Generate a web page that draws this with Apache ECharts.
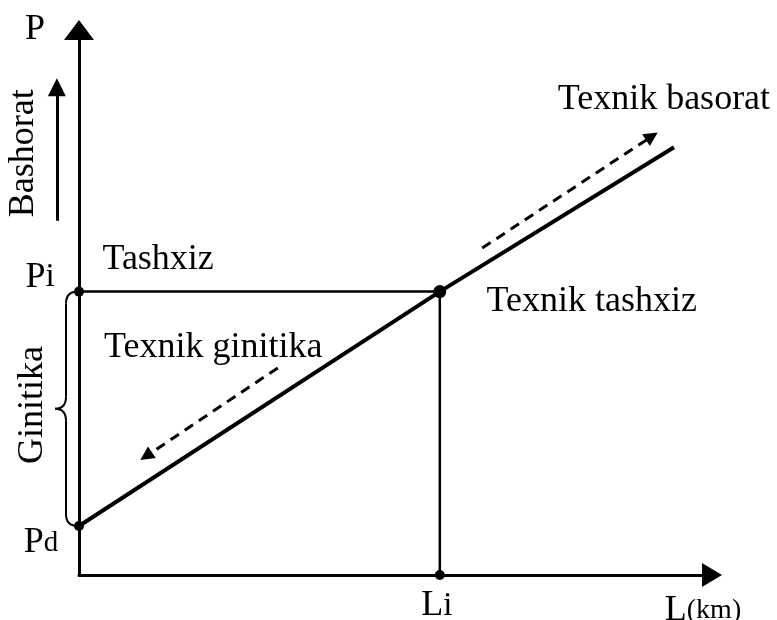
<!DOCTYPE html>
<html>
<head>
<meta charset="utf-8">
<script src="https://cdn.jsdelivr.net/npm/echarts@6/dist/echarts.min.js"></script>
<style>
  html, body { margin: 0; padding: 0; background: #fff; }
  #chart { width: 777px; height: 620px; }
</style>
</head>
<body>
<div id="chart"></div>
<script>
// L (probeg) va P (parametr) o'qlari, nisbiy birliklarda 0..100
const pLevels = [9, 52];          // Pd, Pi
const pSub = ['d', 'i'];
const lLevels = [57];             // Li
const lSub = ['i'];

// asosiy chiziq L -> P
const wearL = [0, 57, 94];
const wearP = [9, 52, 78.5];

// punktir strelkalar (boshi, oxiri)
const basoratL = [63.7, 90.5];
const basoratP = [60, 80.5];
const ginitikaL = [31.4, 10.6];
const ginitikaP = [38, 21.8];
// P o'qi yonidagi "Bashorat" strelkasi
const bashoratL = [-3.5, -3.5];
const bashoratP = [65, 89.5];

// yozuvlar
const captions = ['Tashxiz', 'Texnik ginitika', 'Texnik tashxiz', 'Texnik basorat'];
const captionL = [12.5, 21.2, 81.0, 92.4];
const captionP = [57.8, 41.8, 50.1, 87.2];
const sideCaptions = ['Bashorat', 'Ginitika'];
const sideL = [-8.8, -7.4];
const sideP = [77.4, 31.2];

const font = '"Liberation Serif", "Times New Roman", serif';
const black = '#000';

const Pd = pLevels[0], Pi = pLevels[1], Li = lLevels[0];

function pair(xs, ys) {
    return xs.map((x, i) => [x, ys[i]]);
}

const richSub = {
    a: { fontSize: 36, fontFamily: font, color: black },
    b: { fontSize: 33, fontFamily: font, color: black },
    c: { fontSize: 29, fontFamily: font, color: black },
    k: { fontSize: 28, fontFamily: font, color: black }
};

function dotLabel(text, offset) {
    return { show: true, position: 'inside', formatter: text, offset: offset, rich: richSub, opacity: 1 };
}

const dots = [
    { value: [0, Pi], label: dotLabel('{a|P}{b|' + pSub[1] + '}', [-39, -14]) },
    { value: [Li, Pi], symbolSize: 13 },
    { value: [0, Pd], label: dotLabel('{a|P}{c|' + pSub[0] + '}', [-38, 17]) },
    { value: [Li, 0], label: dotLabel('{a|L}{b|' + lSub[0] + '}', [-3, 31]) }
];

const captionData = captions.map((c, i) => ({ value: [captionL[i], captionP[i]], name: c }))
    .concat(sideCaptions.map((c, i) => ({
        value: [sideL[i], sideP[i]], name: c, label: { rotate: 90 }
    })));

var myChart = echarts.init(document.getElementById('chart'));
myChart.setOption({
    animation: false,
    grid: { left: 79, right: 65, top: 30, bottom: 45, outerBoundsMode: 'none' },
    xAxis: {
        type: 'value',
        min: 0,
        max: 100,
        name: '{a|L}{k|(km)}',
        nameLocation: 'end',
        nameGap: 0,
        nameTextStyle: { align: 'center', verticalAlign: 'top', padding: [18, 18, 0, 0], rich: richSub },
        axisLine: {
            onZero: false,
            symbol: ['none', 'triangle'],
            symbolSize: [24, 20],
            lineStyle: { color: black, width: 3 }
        },
        axisTick: { show: false },
        axisLabel: { show: false },
        splitLine: { show: false }
    },
    yAxis: {
        type: 'value',
        min: 0,
        max: 100,
        name: 'P',
        nameLocation: 'end',
        nameGap: 0,
        nameTextStyle: {
            align: 'right', verticalAlign: 'middle', padding: [0, 34, 0, 0],
            fontSize: 36, fontFamily: font, color: black
        },
        axisLine: {
            onZero: false,
            symbol: ['none', 'triangle'],
            symbolSize: [30, 20],
            lineStyle: { color: black, width: 3 }
        },
        axisTick: { show: false },
        axisLabel: { show: false },
        splitLine: { show: false }
    },
    series: [
        {
            // Pi dan Li gacha yordamchi chiziqlar
            type: 'line',
            data: [[0, Pi], [Li, Pi], [Li, 0]],
            symbol: 'none',
            lineStyle: { color: black, width: 2.5 },
            silent: true
        },
        {
            type: 'line',
            data: pair(wearL, wearP),
            symbol: 'none',
            lineStyle: { color: black, width: 4 },
            silent: true
        },
        {
            type: 'lines',
            coordinateSystem: 'cartesian2d',
            clip: false,
            symbol: ['none', 'triangle'],
            symbolSize: 14,
            lineStyle: { color: black, width: 3, type: [10, 7], opacity: 1 },
            data: [
                { coords: pair(basoratL, basoratP) },
                { coords: pair(ginitikaL, ginitikaP) }
            ],
            silent: true
        },
        {
            type: 'lines',
            coordinateSystem: 'cartesian2d',
            clip: false,
            symbol: ['none', 'triangle'],
            symbolSize: 18,
            lineStyle: { color: black, width: 3, opacity: 1 },
            data: [{ coords: pair(bashoratL, bashoratP) }],
            silent: true
        },
        {
            // Pd..Pi figurali qavs
            type: 'custom',
            clip: false,
            silent: true,
            data: [[0, Pd, Pi]],
            encode: { x: 0, y: [1, 2] },
            renderItem: function (params, api) {
                var bot = api.coord([api.value(0), api.value(1)]);
                var top = api.coord([api.value(0), api.value(2)]);
                var x0 = top[0] - 1, x1 = x0 - 12, xt = x0 - 23, r = 12;
                var yt = top[1], yb = bot[1], ym = (yt + yb) / 2;
                var st = { stroke: black, lineWidth: 2, fill: 'none' };
                return {
                    type: 'group',
                    children: [
                        { type: 'bezierCurve', shape: { x1: x0, y1: yt, cpx1: x1, cpy1: yt, x2: x1, y2: yt + r }, style: st },
                        { type: 'line', shape: { x1: x1, y1: yt + r, x2: x1, y2: ym - r }, style: st },
                        { type: 'bezierCurve', shape: { x1: x1, y1: ym - r, cpx1: x1, cpy1: ym, x2: xt, y2: ym }, style: st },
                        { type: 'bezierCurve', shape: { x1: xt, y1: ym, cpx1: x1, cpy1: ym, x2: x1, y2: ym + r }, style: st },
                        { type: 'line', shape: { x1: x1, y1: ym + r, x2: x1, y2: yb - r }, style: st },
                        { type: 'bezierCurve', shape: { x1: x1, y1: yb - r, cpx1: x1, cpy1: yb, x2: x0, y2: yb }, style: st }
                    ]
                };
            }
        },
        {
            type: 'scatter',
            clip: false,
            silent: true,
            symbolSize: 10,
            itemStyle: { color: black, opacity: 1 },
            data: dots,
            z: 5
        },
        {
            type: 'scatter',
            clip: false,
            silent: true,
            symbolSize: 1,
            itemStyle: { color: 'transparent', opacity: 1 },
            label: {
                show: true,
                position: 'inside',
                formatter: '{b}',
                fontSize: 36,
                fontFamily: font,
                color: black,
                opacity: 1
            },
            data: captionData
        }
    ]
});
</script>
</body>
</html>
